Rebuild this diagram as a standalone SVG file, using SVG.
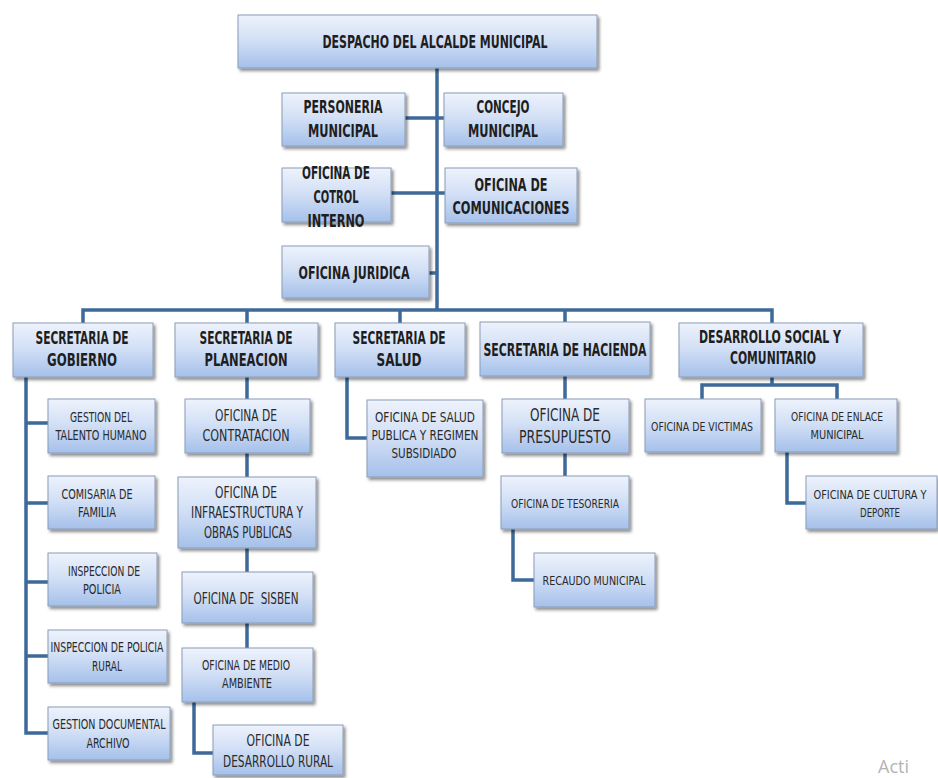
<svg xmlns="http://www.w3.org/2000/svg" width="938" height="778" viewBox="0 0 938 778">
<defs>
<linearGradient id="g" x1="0" y1="0" x2="0" y2="1">
<stop offset="0" stop-color="#eef3fc"/>
<stop offset="0.5" stop-color="#d0def5"/>
<stop offset="1" stop-color="#a5c0ea"/>
</linearGradient>
<filter id="sh" x="-10%" y="-10%" width="125%" height="135%">
<feDropShadow dx="2" dy="2.5" stdDeviation="1.5" flood-color="#000" flood-opacity="0.45"/>
</filter>
</defs>
<style>
.b{fill:url(#g);stroke:#8a9cb8;stroke-width:1;filter:url(#sh)}
.c{fill:none;stroke:#3e6a9a;stroke-width:3.5;stroke-linejoin:miter}
text{font-family:"DejaVu Sans Condensed","Liberation Sans",sans-serif;fill:#1e1e1e;text-anchor:middle}
.t1{font-size:18px;font-weight:bold}
.t5{font-size:18px;fill:#2a2a2a}
.t2{font-size:15.5px;fill:#2a2a2a}
.t3{font-size:14px;fill:#2a2a2a}
.t4{font-size:13px;fill:#2a2a2a}
.t6{font-size:11.5px;fill:#2a2a2a}
</style>
<rect width="938" height="778" fill="#fff"/>
<g id="connectors">
<path class="c" d="M437 68V310"/>
<path class="c" d="M405 118H444"/>
<path class="c" d="M391 193H445"/>
<path class="c" d="M429 273H437"/>
<path class="c" d="M83 323V310H772V323"/>
<path class="c" d="M247 310V323M400 310V323M565 310V322"/>
<path class="c" d="M26 377V733H48M26 423H48M26 503H48M26 582H48M26 656H48"/>
<path class="c" d="M247 377V399M247 453V477M247 548V572M247 623V648"/>
<path class="c" d="M194 702V753H213"/>
<path class="c" d="M347 377V438H367"/>
<path class="c" d="M565 376V399M565 453V476"/>
<path class="c" d="M513 529V580H534"/>
<path class="c" d="M772 377V385M702 399V385H837V399"/>
<path class="c" d="M787 452V503H806"/>
</g>
<g id="n-despacho"><rect class="b" x="238" y="15" width="359" height="53"/><text class="t1" x="435" y="48" textLength="225" lengthAdjust="spacingAndGlyphs">DESPACHO DEL ALCALDE MUNICIPAL</text></g>
<g id="n-personeria"><rect class="b" x="282" y="93" width="123" height="53"/><text class="t1" x="343" y="113" textLength="79" lengthAdjust="spacingAndGlyphs">PERSONERIA</text><text class="t1" x="343" y="137" textLength="70" lengthAdjust="spacingAndGlyphs">MUNICIPAL</text></g>
<g id="n-concejo"><rect class="b" x="444" y="93" width="119" height="53"/><text class="t1" x="503" y="113" textLength="53" lengthAdjust="spacingAndGlyphs">CONCEJO</text><text class="t1" x="503" y="137" textLength="70" lengthAdjust="spacingAndGlyphs">MUNICIPAL</text></g>
<g id="n-control"><rect class="b" x="282" y="168" width="109" height="54"/><text class="t1" x="336" y="179" textLength="68" lengthAdjust="spacingAndGlyphs">OFICINA DE</text><text class="t1" x="336" y="203" textLength="45" lengthAdjust="spacingAndGlyphs">COTROL</text><text class="t1" x="336" y="227" textLength="57" lengthAdjust="spacingAndGlyphs">INTERNO</text></g>
<g id="n-comunicaciones"><rect class="b" x="445" y="168" width="132" height="55"/><text class="t1" x="511" y="191" textLength="73" lengthAdjust="spacingAndGlyphs">OFICINA DE</text><text class="t1" x="511" y="214" textLength="117" lengthAdjust="spacingAndGlyphs">COMUNICACIONES</text></g>
<g id="n-juridica"><rect class="b" x="282" y="246" width="147" height="52"/><text class="t1" x="354" y="279" textLength="111" lengthAdjust="spacingAndGlyphs">OFICINA JURIDICA</text></g>
<g id="n-gobierno"><rect class="b" x="13" y="323" width="140" height="54"/><text class="t1" x="82" y="344" textLength="93" lengthAdjust="spacingAndGlyphs">SECRETARIA DE</text><text class="t1" x="82" y="366" textLength="70" lengthAdjust="spacingAndGlyphs">GOBIERNO</text></g>
<g id="n-planeacion"><rect class="b" x="175" y="323" width="143" height="54"/><text class="t1" x="246" y="344" textLength="93" lengthAdjust="spacingAndGlyphs">SECRETARIA DE</text><text class="t1" x="246" y="366" textLength="83" lengthAdjust="spacingAndGlyphs">PLANEACION</text></g>
<g id="n-salud"><rect class="b" x="335" y="323" width="130" height="54"/><text class="t1" x="399" y="344" textLength="93" lengthAdjust="spacingAndGlyphs">SECRETARIA DE</text><text class="t1" x="399" y="366" textLength="45" lengthAdjust="spacingAndGlyphs">SALUD</text></g>
<g id="n-hacienda"><rect class="b" x="480" y="322" width="170" height="54"/><text class="t1" x="565" y="356" textLength="163" lengthAdjust="spacingAndGlyphs">SECRETARIA DE HACIENDA</text></g>
<g id="n-desarrollo"><rect class="b" x="679" y="323" width="184" height="54"/><text class="t1" x="770" y="343" textLength="142" lengthAdjust="spacingAndGlyphs">DESARROLLO SOCIAL Y</text><text class="t1" x="773" y="364" textLength="86" lengthAdjust="spacingAndGlyphs">COMUNITARIO</text></g>
<g id="n-talento"><rect class="b" x="48" y="399" width="107" height="54"/><text class="t3" x="101" y="422" textLength="62" lengthAdjust="spacingAndGlyphs">GESTION DEL</text><text class="t3" x="101" y="440" textLength="91" lengthAdjust="spacingAndGlyphs">TALENTO HUMANO</text></g>
<g id="n-comisaria"><rect class="b" x="48" y="476" width="107" height="53"/><text class="t3" x="97" y="499" textLength="71" lengthAdjust="spacingAndGlyphs">COMISARIA DE</text><text class="t3" x="97" y="517" textLength="38" lengthAdjust="spacingAndGlyphs">FAMILIA</text></g>
<g id="n-inspeccion"><rect class="b" x="48" y="553" width="109" height="53"/><text class="t3" x="104" y="576" textLength="72" lengthAdjust="spacingAndGlyphs">INSPECCION DE</text><text class="t3" x="102" y="594" textLength="38" lengthAdjust="spacingAndGlyphs">POLICIA</text></g>
<g id="n-inspeccion-rural"><rect class="b" x="48" y="630" width="119" height="53"/><text class="t3" x="107" y="652" textLength="113" lengthAdjust="spacingAndGlyphs">INSPECCION DE POLICIA</text><text class="t3" x="107" y="671" textLength="30" lengthAdjust="spacingAndGlyphs">RURAL</text></g>
<g id="n-documental"><rect class="b" x="48" y="707" width="122" height="53"/><text class="t3" x="109" y="729" textLength="113" lengthAdjust="spacingAndGlyphs">GESTION DOCUMENTAL</text><text class="t3" x="108" y="748" textLength="43" lengthAdjust="spacingAndGlyphs">ARCHIVO</text></g>
<g id="n-contratacion"><rect class="b" x="185" y="399" width="125" height="54"/><text class="t2" x="246" y="421" textLength="62" lengthAdjust="spacingAndGlyphs">OFICINA DE</text><text class="t2" x="246" y="441" textLength="87" lengthAdjust="spacingAndGlyphs">CONTRATACION</text></g>
<g id="n-infraestructura"><rect class="b" x="178" y="477" width="138" height="71"/><text class="t2" x="246" y="498" textLength="62" lengthAdjust="spacingAndGlyphs">OFICINA DE</text><text class="t2" x="247" y="518" textLength="112" lengthAdjust="spacingAndGlyphs">INFRAESTRUCTURA Y</text><text class="t2" x="248" y="538" textLength="88" lengthAdjust="spacingAndGlyphs">OBRAS PUBLICAS</text></g>
<g id="n-sisben"><rect class="b" x="182" y="572" width="131" height="51"/><text class="t2" x="246" y="604" xml:space="preserve" textLength="105" lengthAdjust="spacingAndGlyphs">OFICINA DE  SISBEN</text></g>
<g id="n-medio"><rect class="b" x="182" y="648" width="131" height="54"/><text class="t3" x="246" y="670" textLength="88" lengthAdjust="spacingAndGlyphs">OFICINA DE MEDIO</text><text class="t3" x="247" y="688" textLength="50" lengthAdjust="spacingAndGlyphs">AMBIENTE</text></g>
<g id="n-rural"><rect class="b" x="213" y="725" width="130" height="50"/><text class="t2" x="278" y="746" textLength="63" lengthAdjust="spacingAndGlyphs">OFICINA DE</text><text class="t2" x="278" y="767" textLength="110" lengthAdjust="spacingAndGlyphs">DESARROLLO RURAL</text></g>
<g id="n-saludpublica"><rect class="b" x="367" y="400" width="116" height="77"/><text class="t3" x="425" y="422" textLength="100" lengthAdjust="spacingAndGlyphs">OFICINA DE SALUD</text><text class="t3" x="425" y="440" textLength="107" lengthAdjust="spacingAndGlyphs">PUBLICA Y REGIMEN</text><text class="t3" x="424" y="458" textLength="65" lengthAdjust="spacingAndGlyphs">SUBSIDIADO</text></g>
<g id="n-presupuesto"><rect class="b" x="502" y="399" width="127" height="54"/><text class="t5" x="565" y="421" textLength="70" lengthAdjust="spacingAndGlyphs">OFICINA DE</text><text class="t5" x="565" y="443" textLength="92" lengthAdjust="spacingAndGlyphs">PRESUPUESTO</text></g>
<g id="n-tesoreria"><rect class="b" x="501" y="476" width="128" height="53"/><text class="t4" x="565" y="508" textLength="108" lengthAdjust="spacingAndGlyphs">OFICINA DE TESORERIA</text></g>
<g id="n-recaudo"><rect class="b" x="534" y="553" width="121" height="54"/><text class="t4" x="594" y="585" textLength="103" lengthAdjust="spacingAndGlyphs">RECAUDO MUNICIPAL</text></g>
<g id="n-victimas"><rect class="b" x="645" y="399" width="116" height="53"/><text class="t4" x="702" y="431" textLength="102" lengthAdjust="spacingAndGlyphs">OFICINA DE VICTIMAS</text></g>
<g id="n-enlace"><rect class="b" x="775" y="399" width="122" height="53"/><text class="t4" x="837" y="421" textLength="92" lengthAdjust="spacingAndGlyphs">OFICINA DE ENLACE</text><text class="t4" x="837" y="439" textLength="53" lengthAdjust="spacingAndGlyphs">MUNICIPAL</text></g>
<g id="n-cultura"><rect class="b" x="806" y="476" width="131" height="53"/><text class="t6" x="870" y="499" textLength="113" lengthAdjust="spacingAndGlyphs">OFICINA DE CULTURA Y</text><text class="t4" x="880" y="517" textLength="40" lengthAdjust="spacingAndGlyphs">DEPORTE</text></g>
<text x="878" y="773" style="font-family:'Open Sans','DejaVu Sans',sans-serif;font-size:18px;fill:#b4b4b4;text-anchor:start">Acti</text>
</svg>
